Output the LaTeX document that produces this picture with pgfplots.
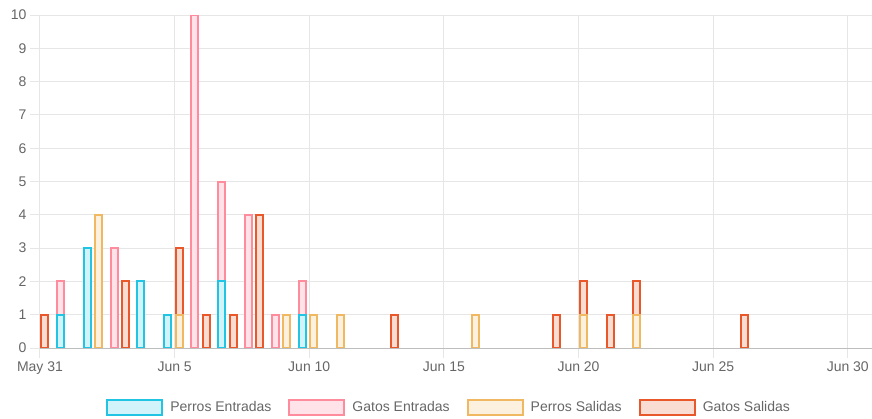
\documentclass[border=0pt]{standalone}
\usepackage{fontspec}
\setmainfont{Liberation Sans}
\usepackage{pgfplots}
\pgfplotsset{compat=1.18}

\definecolor{gridc}{HTML}{E6E6E6}
\definecolor{axisc}{HTML}{BDBDBD}
\definecolor{tickc}{HTML}{666666}
\definecolor{peB}{HTML}{22C4E4}
\definecolor{peF}{HTML}{D3F3FA}
\definecolor{geB}{HTML}{FF8C9C}
\definecolor{geF}{HTML}{FFE3E8}
\definecolor{psB}{HTML}{F0B860}
\definecolor{psF}{HTML}{FCF0DE}
\definecolor{gsB}{HTML}{E8582A}
\definecolor{gsF}{HTML}{F9DDD3}

\pgfplotsset{
  perE/.style={draw=peB, fill=peF, line width=2pt},
  gatE/.style={draw=geB, fill=geF, line width=2pt},
  perS/.style={draw=psB, fill=psF, line width=2pt},
  gatS/.style={draw=gsB, fill=gsF, line width=2pt},
}

% Entradas: x = day index (May 31 = 0) + 0.75, Salidas: + 0.17
% gatos columns hold the top of the stack (perros + gatos)
\pgfplotstableread{
x     y
0.75  1
1.75  3
3.75  2
4.75  1
6.75  2
9.75  1
}\perrosEntradas
\pgfplotstableread{
x     y
0.75  2
2.75  3
5.75  10
6.75  5
7.75  4
8.75  1
9.75  2
}\gatosEntradas
\pgfplotstableread{
x      y
2.17   4
5.17   1
9.17   1
10.17  1
11.17  1
16.17  1
20.17  1
22.17  1
}\perrosSalidas
\pgfplotstableread{
x      y
0.17   1
3.17   2
5.17   3
6.17   1
7.17   1
8.17   4
13.17  1
19.17  1
20.17  2
21.17  1
22.17  2
26.17  1
}\gatosSalidas

\begin{document}
\begin{tikzpicture}
\useasboundingbox (-40pt,-70pt) rectangle (832pt,348pt);
\begin{axis}[
  scale only axis,
  width=832pt, height=333pt,
  xmin=0, xmax=30.9,
  ymin=0, ymax=10,
  axis line style={draw=none},
  xtick={0,5,...,30},
  xticklabels={May 31, Jun 5, Jun 10, Jun 15, Jun 20, Jun 25, Jun 30},
  ytick={0,1,...,10},
  tick pos=left,
  tick align=outside,
  major tick length=10pt,
  tick style={gridc, line width=1pt},
  grid=major,
  major grid style={gridc, line width=1pt},
  ticklabel style={font=\fontsize{14}{16}\selectfont, text=tickc},
  /pgf/number format/assume math mode=true,
  ybar, bar width=0.26, bar shift=0pt,
  legend image code/.code={\draw[#1] (0pt,-7.5pt) rectangle (55pt,7.5pt);},
  legend columns=4,
  legend style={
    at={(axis description cs:0.4905,0)}, anchor=center, yshift=-59pt,
    draw=none, fill=none, inner sep=0pt,
    font=\fontsize{14}{16}\selectfont, text=tickc,
    nodes={inner sep=0pt},
    /tikz/every odd column/.append style={column sep=7pt},
    /tikz/every even column/.append style={column sep=17pt},
  },
]
\addplot[gatE, forget plot] table[x=x, y=y] {\gatosEntradas};
\addplot[perE, forget plot] table[x=x, y=y] {\perrosEntradas};
\addplot[gatS, forget plot] table[x=x, y=y] {\gatosSalidas};
\addplot[perS, forget plot] table[x=x, y=y] {\perrosSalidas};

\draw[axisc, line width=1pt] (axis cs:0,0) -- (axis cs:30.9,0);

\addlegendimage{perE}
\addlegendimage{gatE}
\addlegendimage{perS}
\addlegendimage{gatS}
\legend{Perros Entradas, Gatos Entradas, Perros Salidas, Gatos Salidas}
\end{axis}
\end{tikzpicture}
\end{document}
